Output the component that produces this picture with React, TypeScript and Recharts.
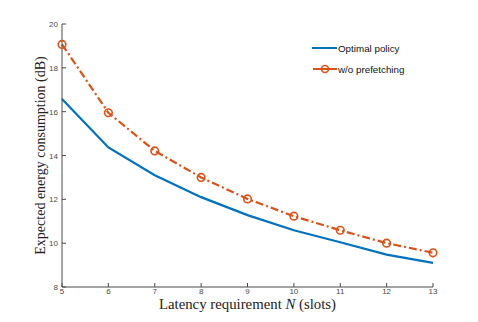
import { LineChart, Line, XAxis, YAxis, Legend, Label } from "recharts";

const latency = [5, 6, 7, 8, 9, 10, 11, 12, 13];
const optimalPolicy = [16.58, 14.37, 13.1, 12.1, 11.28, 10.59, 10.04, 9.48, 9.1];
const withoutPrefetching = [19.07, 15.95, 14.21, 13.0, 12.02, 11.23, 10.59, 10.0, 9.56];
const xTicks = [5, 6, 7, 8, 9, 10, 11, 12, 13];
const yTicks = [8, 10, 12, 14, 16, 18, 20];

const BLUE = "#0072BD";
const ORANGE = "#D95319";
const AXIS = "#4a4a4a";
const TICK_TEXT = "#4a4a4a";

const data = latency.map((n, i) => ({
  n,
  optimal: optimalPolicy[i],
  noPrefetch: withoutPrefetching[i],
}));

const BottomTick = ({ x, y, payload }: any) => (
  <g>
    <line x1={x} y1={y - 3} x2={x} y2={y - 7} stroke={AXIS} strokeWidth={1} />
    <text x={x} y={y + 3.5} textAnchor="middle" fontSize={8} fill={TICK_TEXT} fontFamily="Liberation Sans, Arial, sans-serif">
      {payload.value}
    </text>
  </g>
);

const LeftTick = ({ x, y, payload }: any) => (
  <g>
    <line x1={x + 3} y1={y} x2={x + 7} y2={y} stroke={AXIS} strokeWidth={1} />
    <text x={x - 1} y={y + 3} textAnchor="end" fontSize={8} fill={TICK_TEXT} fontFamily="Liberation Sans, Arial, sans-serif">
      {payload.value}
    </text>
  </g>
);

const TopTick = ({ x, y }: any) => (
  <line x1={x} y1={y + 3} x2={x} y2={y + 7} stroke={AXIS} strokeWidth={1} />
);

const RightTick = ({ x, y }: any) => (
  <line x1={x - 3} y1={y} x2={x - 7} y2={y} stroke={AXIS} strokeWidth={1} />
);

const LegendBox = () => (
  <svg width={120} height={40} style={{ overflow: "visible", display: "block" }}>
    <line x1={0} y1={6} x2={25} y2={6} stroke={BLUE} strokeWidth={2} />
    <text x={26} y={9.5} fontSize={9.8} fill="#111" fontFamily="Liberation Sans, Arial, sans-serif">
      Optimal policy
    </text>
    <line x1={1} y1={27} x2={25} y2={27} stroke={ORANGE} strokeWidth={2} />
    <circle cx={13} cy={27} r={3.5} fill="none" stroke={ORANGE} strokeWidth={1.6} />
    <text x={26} y={30.5} fontSize={9.8} fill="#111" fontFamily="Liberation Sans, Arial, sans-serif">
      w/o prefetching
    </text>
  </svg>
);

const XTitle = ({ viewBox }: any) => {
  const cx = viewBox.x + viewBox.width / 2;
  return (
    <text x={cx} y={308.5} textAnchor="middle" fontSize={14.8} fill="#222" fontFamily="Liberation Serif, Times New Roman, serif">
      Latency requirement <tspan fontStyle="italic">N</tspan> (slots)
    </text>
  );
};

const YTitle = ({ viewBox }: any) => {
  const cy = viewBox.y + viewBox.height / 2;
  return (
    <text
      x={45}
      y={cy}
      transform={`rotate(-90 45 ${cy})`}
      textAnchor="middle"
      fontSize={14}
      fill="#222"
      fontFamily="Liberation Serif, Times New Roman, serif"
    >
      Expected energy consumption (dB)
    </text>
  );
};

export default function App() {
  return (
    <div style={{ position: "absolute", left: 0, top: 0, background: "#fff" }}>
      <LineChart width={478} height={322} data={data} margin={{ top: 24, right: 45, bottom: 0, left: 0 }}>
        <XAxis
          dataKey="n"
          type="number"
          domain={[5, 13]}
          ticks={xTicks}
          height={35}
          tickSize={0}
          tickMargin={3}
          tick={<BottomTick />}
          axisLine={{ stroke: AXIS, strokeWidth: 1 }}
        >
          <Label content={<XTitle />} />
        </XAxis>
        <XAxis
          xAxisId="top"
          dataKey="n"
          type="number"
          orientation="top"
          domain={[5, 13]}
          ticks={xTicks}
          height={0}
          tickSize={0}
          tickMargin={3}
          tick={<TopTick />}
          axisLine={{ stroke: AXIS, strokeWidth: 1 }}
        />
        <YAxis
          type="number"
          domain={[8, 20]}
          ticks={yTicks}
          width={62}
          tickSize={0}
          tickMargin={3}
          tick={<LeftTick />}
          axisLine={{ stroke: AXIS, strokeWidth: 1 }}
        >
          <Label content={<YTitle />} />
        </YAxis>
        <YAxis
          yAxisId="right"
          orientation="right"
          type="number"
          domain={[8, 20]}
          ticks={yTicks}
          width={0}
          tickSize={0}
          tickMargin={3}
          tick={<RightTick />}
          axisLine={{ stroke: AXIS, strokeWidth: 1 }}
        />
        <Legend
          content={<LegendBox />}
          layout="vertical"
          verticalAlign="middle"
          align="center"
          wrapperStyle={{ position: "absolute", left: 312, top: 42, width: 120, height: 40 }}
        />
        <Line
          dataKey="optimal"
          stroke={BLUE}
          strokeWidth={2.2}
          dot={false}
          activeDot={false}
          isAnimationActive={false}
        />
        <Line
          dataKey="noPrefetch"
          stroke={ORANGE}
          strokeWidth={2.2}
          strokeDasharray="8 3 2 3"
          dot={{ r: 3.8, fill: "none", stroke: ORANGE, strokeWidth: 1.6, strokeDasharray: "0" }}
          activeDot={false}
          isAnimationActive={false}
        />
      </LineChart>
    </div>
  );
}
